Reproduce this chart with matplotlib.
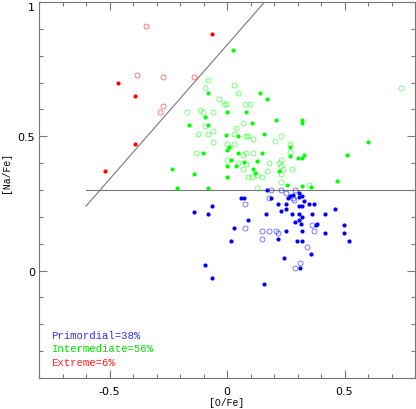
import matplotlib
matplotlib.use("Agg")
import matplotlib.pyplot as plt
from matplotlib.ticker import MultipleLocator

# ---- data ([O/Fe], [Na/Fe]) ----
# extreme (red)
ext_fill_x = [-0.062, -0.462, -0.392, -0.392, -0.521]
ext_fill_y = [0.879, 0.700, 0.650, 0.470, 0.370]
ext_open_x = [-0.343, -0.382, -0.272, -0.142, -0.272, -0.283]
ext_open_y = [0.910, 0.730, 0.720, 0.720, 0.611, 0.589]

# intermediate (green)
int_fill_x = [0.027, -0.081, 0.139, 0.169, -0.092, -0.001, 0.079, -0.162, -0.081,
              0.208, 0.319, 0.319, 0.108, -0.006, 0.048, 0.158, 0.007, -0.001,
              0.269, 0.599, -0.102, 0.048, 0.149, 0.019, 0.074, 0.128, 0.268,
              0.300, 0.319, 0.329, 0.509, -0.001, 0.039, 0.109, 0.119, -0.232,
              -0.142, -0.001, 0.220, 0.254, 0.319, 0.359, 0.468, -0.211, -0.081]
int_fill_y = [0.820, 0.660, 0.663, 0.639, 0.571, 0.589, 0.589, 0.541, 0.541,
              0.560, 0.560, 0.549, 0.550, 0.506, 0.500, 0.510, 0.459, 0.448,
              0.461, 0.479, 0.439, 0.439, 0.439, 0.410, 0.405, 0.408, 0.426,
              0.420, 0.420, 0.429, 0.429, 0.390, 0.390, 0.380, 0.364, 0.380,
              0.360, 0.350, 0.370, 0.320, 0.315, 0.310, 0.335, 0.309, 0.309]
int_open_x = [-0.082, -0.092, 0.028, 0.048, -0.032, -0.013, -0.003, 0.078, 0.099,
              -0.169, -0.113, -0.102, -0.061, -0.094, 0.068, 0.038, -0.122, -0.081,
              -0.061, 0.028, 0.079, 0.090, 0.109, 0.229, 0.203, -0.061, -0.001,
              0.028, 0.269, -0.131, 0.079, 0.109, 0.268, 0.068, -0.001, 0.048,
              0.081, 0.179, 0.229, 0.221, 0.069, 0.278, 0.169, 0.228, 0.088,
              0.108, 0.128, 0.148, 0.229, 0.128, 0.348, 0.739, 0.238, 0.228]
int_open_y = [0.709, 0.680, 0.690, 0.660, 0.640, 0.620, 0.620, 0.620, 0.620,
              0.592, 0.599, 0.589, 0.590, 0.540, 0.550, 0.529, 0.509, 0.509,
              0.520, 0.509, 0.500, 0.500, 0.490, 0.500, 0.482, 0.480, 0.470,
              0.470, 0.470, 0.439, 0.439, 0.439, 0.440, 0.429, 0.410, 0.401,
              0.398, 0.400, 0.410, 0.400, 0.380, 0.380, 0.370, 0.360, 0.350,
              0.350, 0.357, 0.350, 0.331, 0.309, 0.320, 0.680, 0.380, 0.390]

# primordial (blue)
pri_fill_x = [0.169, 0.058, 0.073, 0.189, 0.218, -0.062, -0.142, -0.082, 0.164,
              0.089, 0.028, 0.218, 0.019, -0.092, -0.062, 0.159, 0.308, 0.319,
              0.308, 0.260, 0.270, 0.279, 0.329, 0.249, 0.348, 0.369, 0.308,
              0.319, 0.249, 0.228, 0.458, 0.278, 0.308, 0.360, 0.419, 0.319,
              0.308, 0.289, 0.313, 0.380, 0.385, 0.499, 0.249, 0.319, 0.419,
              0.499, 0.299, 0.319, 0.518, 0.359, 0.244, 0.309]
pri_fill_y = [0.299, 0.269, 0.269, 0.269, 0.249, 0.239, 0.219, 0.210, 0.210,
              0.190, 0.159, 0.119, 0.109, 0.019, -0.026, -0.050, 0.289, 0.279,
              0.274, 0.269, 0.279, 0.283, 0.259, 0.249, 0.249, 0.249, 0.239,
              0.239, 0.230, 0.220, 0.230, 0.210, 0.210, 0.210, 0.210, 0.200,
              0.190, 0.180, 0.175, 0.170, 0.175, 0.170, 0.149, 0.149, 0.140,
              0.140, 0.109, 0.109, 0.109, 0.060, 0.045, 0.010]
pri_open_x = [0.189, 0.228, 0.249, 0.289, 0.178, 0.279, 0.285, 0.078, 0.078,
              0.149, 0.178, 0.208, 0.218, 0.149, 0.360, 0.369, 0.339, 0.309, 0.289]
pri_open_y = [0.299, 0.299, 0.289, 0.299, 0.271, 0.269, 0.264, 0.249, 0.159,
              0.149, 0.149, 0.149, 0.140, 0.119, 0.170, 0.149, 0.089, 0.030, 0.010]

# separating lines
hline_x = [-0.6, 0.8]
hline_y = [0.3, 0.3]
dline_x = [-0.6, 0.16]
dline_y = [0.24, 1.0]

labels = ['Primordial=38%', 'Intermediate=56%', 'Extreme=6%']
label_colors = ['#3030ff', '#00e000', '#ff2020']

grey = '#777777'
fig = plt.figure(figsize=(4.16, 4.10), dpi=100)
ax = fig.add_axes([39/416, 1 - 379/410, 376/416, 376/410])

ax.plot(hline_x, hline_y, color=grey, lw=0.8)
ax.plot(dline_x, dline_y, color=grey, lw=0.8)

groups = [(pri_fill_x, pri_fill_y, pri_open_x, pri_open_y, 'blue'),
          (int_fill_x, int_fill_y, int_open_x, int_open_y, '#00ff00'),
          (ext_fill_x, ext_fill_y, ext_open_x, ext_open_y, 'red')]
for fx, fy, ox, oy, col in groups:
    ax.plot(ox, oy, 'o', ms=3.6, mfc='none', mec=col, mew=0.6, alpha=0.6)
    ax.plot(fx, fy, 'o', ms=3.0, mfc=col, mec=col, mew=0)

for i, (lab, col) in enumerate(zip(labels, label_colors)):
    ax.text(-0.75, -0.24 - 0.05*i, lab, color=col, fontsize=7.7,
            family='Liberation Mono', va='center', ha='left')

ax.set_xlim(-0.8, 0.8)
ax.set_ylim(-0.4, 1.0)
ax.xaxis.set_major_locator(MultipleLocator(0.5))
ax.xaxis.set_minor_locator(MultipleLocator(0.1))
ax.yaxis.set_major_locator(MultipleLocator(0.5))
ax.yaxis.set_minor_locator(MultipleLocator(0.1))
ax.tick_params(which='both', direction='in', top=True, right=True,
               color=grey, width=0.8, labelsize=8)
ax.tick_params(which='major', length=6)
ax.tick_params(which='minor', length=3)
ax.tick_params(axis='x', pad=6)
ax.tick_params(axis='y', pad=3)
ax.set_xticks([-0.5, 0, 0.5])
ax.set_xticklabels(['-0.5', '0', '0.5'])
ax.set_yticks([0, 0.5, 1])
ax.set_yticklabels(['0', '0.5', '1'])
ax.get_yticklabels()[-1].set_va('top')
for s in ax.spines.values():
    s.set_color(grey)
    s.set_linewidth(0.8)

ax.set_xlabel('[O/Fe]', family='Liberation Mono', fontsize=7)
ax.set_ylabel('[Na/Fe]', family='Liberation Mono', fontsize=7)
ax.xaxis.set_label_coords(0.5, -0.05)
ax.yaxis.set_label_coords(-0.075, 0.55)

fig.savefig('out.png', dpi=100)
